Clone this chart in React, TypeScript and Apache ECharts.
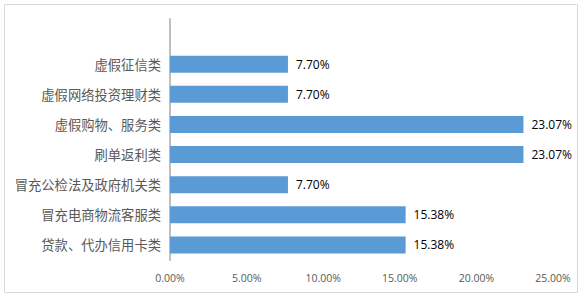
import React, { useEffect, useRef } from "react";
import * as echarts from "echarts";

const categories = [
  "贷款、代办信用卡类",
  "冒充电商物流客服类",
  "冒充公检法及政府机关类",
  "刷单返利类",
  "虚假购物、服务类",
  "虚假网络投资理财类",
  "虚假征信类",
  "",
];
const values: (number | null)[] = [15.38, 15.38, 7.7, 23.07, 23.07, 7.7, 7.7, null];
const xTicks = { min: 0, max: 25, interval: 5 };

export default function App() {
  const ref = useRef<HTMLDivElement>(null);
  useEffect(() => {
    const chart = echarts.init(ref.current!, null, { renderer: "svg" });
    chart.setOption({
      animation: false,
      backgroundColor: "#ffffff",
      graphic: [
        {
          type: "rect",
          shape: { x: 4.5, y: 4.5, width: 573, height: 288 },
          style: { fill: "none", stroke: "#D9D9D9", lineWidth: 1 },
          silent: true,
        },
      ],
      grid: { left: 170, right: 29, top: 19, bottom: 37 },
      xAxis: {
        type: "value",
        min: xTicks.min,
        max: xTicks.max,
        interval: xTicks.interval,
        axisLine: { show: false },
        axisTick: { show: false },
        splitLine: { show: false },
        axisLabel: {
          formatter: (v: number) => v.toFixed(2) + "%",
          color: "#595959",
          fontSize: 10.5,
          fontFamily: "Open Sans",
          margin: 12,
        },
      },
      yAxis: {
        type: "category",
        data: categories,
        axisLine: { show: true, lineStyle: { color: "#BFBFBF", width: 2 } },
        axisTick: { show: false },
        axisLabel: {
          color: "#595959",
          fontSize: 13.3,
          fontFamily: "Noto Sans CJK SC",
          margin: 9,
        },
      },
      series: [
        {
          type: "bar",
          data: values,
          barWidth: 17,
          itemStyle: { color: "#5B9BD5" },
          label: {
            show: true,
            position: "right",
            distance: 8,
            formatter: (p: any) => (p.value == null ? "" : Number(p.value).toFixed(2) + "%"),
            color: "#000000",
            fontSize: 12,
            fontFamily: "Open Sans",
          },
        },
      ],
    });
    return () => chart.dispose();
  }, []);
  return <div ref={ref} style={{ width: 582, height: 297, position: "absolute", left: 0, top: 0 }} />;
}
